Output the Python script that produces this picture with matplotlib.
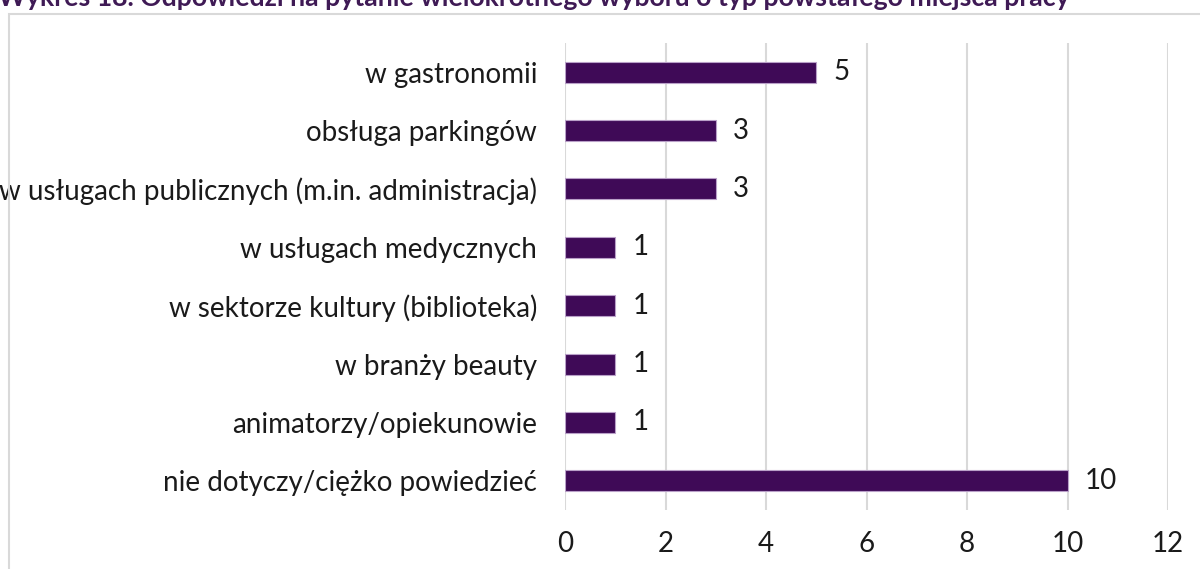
import matplotlib.pyplot as plt
from matplotlib.patches import Rectangle

categories = [
    'w gastronomii',
    'obsługa parkingów',
    'w usługach publicznych (m.in. administracja)',
    'w usługach medycznych',
    'w sektorze kultury (biblioteka)',
    'w branży beauty',
    'animatorzy/opiekunowie',
    'nie dotyczy/ciężko powiedzieć',
]
values = [5, 3, 3, 1, 1, 1, 1, 10]
x_ticks = [0, 2, 4, 6, 8, 10, 12]
title = 'Wykres 18. Odpowiedzi na pytanie wielokrotnego wyboru o typ powstałego miejsca pracy'

plt.rcParams['font.family'] = ['Lato', 'DejaVu Sans']

fig = plt.figure(figsize=(12, 5.69), dpi=100)

# ramka wokół wykresu
fig.patches.append(Rectangle((9 / 1200, -0.1), 1.2, 1.1 - 14 / 569,
                             transform=fig.transFigure, fill=False,
                             edgecolor='#d9d9d9', linewidth=1.5))

# tytuł (obcięty u góry jak w oryginale)
fig.text(-2 / 1200, 1 - 6 / 569, title, fontsize=19.2, fontweight='bold',
         color='#3f1a55', va='baseline', ha='left')

ax = fig.add_axes([565 / 1200, 1 - 510 / 569, 603 / 1200, 467 / 569])

pos = list(range(len(categories)))
ax.barh(pos, values, height=0.36, color='#3f0a57', edgecolor='#b9a0c8',
        linewidth=0.8, zorder=3)

for p, v in zip(pos, values):
    ax.text(v + 0.34, p, str(v), va='center', ha='left', fontsize=20,
            color='#1a1a1a')

ax.set_xlim(0, 12)
ax.set_ylim(len(categories) - 0.5, -0.5)
ax.set_xticks(x_ticks)
ax.set_yticks(pos)
ax.set_yticklabels(categories)
ax.tick_params(axis='both', length=0, labelsize=20, labelcolor='#1a1a1a')
ax.tick_params(axis='x', pad=15)
ax.tick_params(axis='y', pad=20)
ax.grid(axis='x', color='#d9d9d9', linewidth=1.5, zorder=0)
for s in ax.spines.values():
    s.set_visible(False)

fig.savefig('out.png', dpi=100)
